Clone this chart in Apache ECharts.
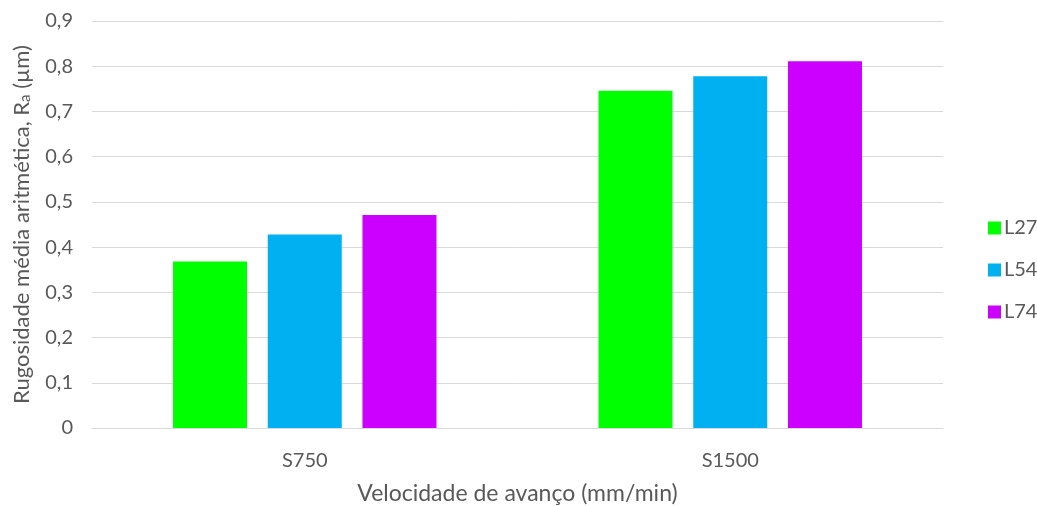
<!DOCTYPE html>
<html><head><meta charset="utf-8">
<script src="https://cdn.jsdelivr.net/npm/echarts@6/dist/echarts.min.js"></script>
<style>html,body{margin:0;padding:0;background:#fff}#c{width:1037px;height:506px}</style>
</head><body><div id="c"></div>
<script>
const categories = ['S750', 'S1500'];
const seriesNames = ['L27', 'L54', 'L74'];
const L27 = [0.368, 0.746];
const L54 = [0.428, 0.778];
const L74 = [0.471, 0.811];
const colors = ['#00FF00', '#00B0F0', '#CC00FF'];
const values = [L27, L54, L74];
const font = 'Lato, "Open Sans", sans-serif';
const chart = echarts.init(document.getElementById('c'));
chart.setOption({
  animation: false,
  textStyle: { fontFamily: font },
  grid: { left: 92, right: 94, top: 21, bottom: 78, outerBoundsMode: 'none', containLabel: false },
  legend: {
    orient: 'vertical', left: 983, top: 213, itemWidth: 13, itemHeight: 13, itemGap: 22,
    icon: 'rect', data: seriesNames,
    textStyle: { fontFamily: font, fontSize: 20, color: '#595959', padding: [0, 0, 0, -2] }
  },
  xAxis: {
    type: 'category', data: categories,
    axisLine: { lineStyle: { color: '#d9d9d9' } }, axisTick: { show: false },
    axisLabel: { fontFamily: font, fontSize: 20, color: '#595959', margin: 23 },
    name: 'Velocidade de avanço (mm/min)', nameLocation: 'middle', nameGap: 54,
    nameTextStyle: { fontFamily: font, fontSize: 23, color: '#595959' }
  },
  yAxis: {
    type: 'value', min: 0, max: 0.9, interval: 0.1,
    axisLine: { show: false }, axisTick: { show: false },
    splitLine: { lineStyle: { color: '#d9d9d9', width: 1 } },
    axisLabel: { fontFamily: font, fontSize: 20, color: '#595959', margin: 19,
      formatter: v => v === 0 ? '0' : v.toFixed(1).replace('.', ',') },
    name: 'Rugosidade média aritmética, R{s|a} (µm)', nameLocation: 'middle', nameGap: 59,
    nameTextStyle: { fontFamily: font, fontSize: 22, color: '#595959',
      rich: { s: { fontFamily: font, fontSize: 15, color: '#595959', verticalAlign: 'bottom', padding: [6, 0, 0, 0] } } }
  },
  series: seriesNames.map((n, i) => ({
    name: n, type: 'bar', data: values[i], barWidth: 74, barGap: '28%',
    itemStyle: { color: colors[i] }
  }))
});
</script></body></html>
